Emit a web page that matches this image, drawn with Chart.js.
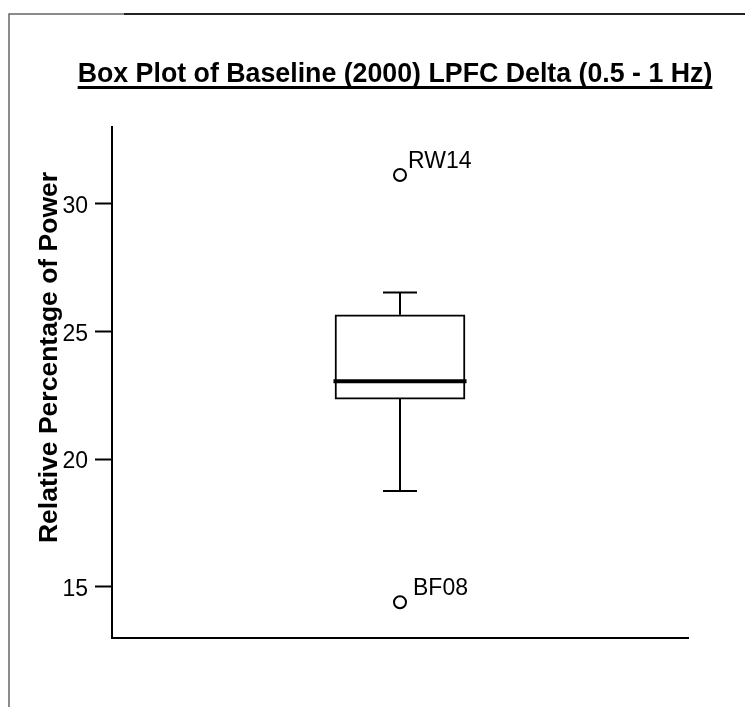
<!DOCTYPE html>
<html>
<head>
<meta charset="utf-8">
<script src="https://cdn.jsdelivr.net/npm/chart.js@4"></script>
<style>
  html, body { margin: 0; padding: 0; background: #fff; }
  #wrap { width: 745px; height: 707px; position: relative; }
</style>
</head>
<body>
<div id="wrap"><canvas id="c" width="745" height="707"></canvas></div>
<script>
// ---- data ----
const chartTitle = 'Box Plot of Baseline (2000) LPFC Delta (0.5 - 1 Hz)';
const yAxisTitle = 'Relative Percentage of Power';
const yTickValues = [15, 20, 25, 30];
const yRange = [13, 33];
// five-number summary: lower whisker, Q1, median, Q3, upper whisker
const boxStats = [18.75, 22.35, 23.05, 25.65, 26.52];
const outlierLabels = ['RW14', 'BF08'];
const outlierValues = [31.12, 14.40];

// ---- styling ----
const FONT = "'Liberation Sans', Arial, sans-serif";
const BOX_X = 1;            // centre of the single box on a 0..2 linear axis
const MEDIAN_HALF = 0.231;  // half width of the median bar (axis units)
const CAP_HALF = 0.059;     // half width of whisker caps (axis units)
const labelOffsets = [[8, -7], [13, -7]];

const [wLow, q1, med, q3, wHigh] = boxStats;

const seg = (x0, y0, x1, y1) => [{ x: x0, y: y0 }, { x: x1, y: y1 }, { x: NaN, y: NaN }];

const whiskerPoints = [
  ...seg(BOX_X, q3, BOX_X, wHigh),
  ...seg(BOX_X - CAP_HALF, wHigh, BOX_X + CAP_HALF, wHigh),
  ...seg(BOX_X, q1, BOX_X, wLow),
  ...seg(BOX_X - CAP_HALF, wLow, BOX_X + CAP_HALF, wLow)
];

const decorations = {
  id: 'decorations',
  beforeDraw(chart) {
    const ctx = chart.ctx;
    ctx.save();
    // page frame
    ctx.strokeStyle = '#666';
    ctx.lineWidth = 1.5;
    ctx.beginPath();
    ctx.moveTo(9, 707); ctx.lineTo(9, 14); ctx.lineTo(124, 14);
    ctx.stroke();
    ctx.strokeStyle = '#222';
    ctx.lineWidth = 2;
    ctx.beginPath();
    ctx.moveTo(124, 14); ctx.lineTo(745, 14);
    ctx.stroke();
    ctx.restore();
  },
  afterDraw(chart) {
    const ctx = chart.ctx;
    ctx.save();
    ctx.fillStyle = '#000';
    // underlined chart title
    ctx.font = 'bold 26.75px ' + FONT;
    ctx.textAlign = 'center';
    ctx.textBaseline = 'alphabetic';
    const cx = 395;
    ctx.fillText(chartTitle, cx, 82);
    const tw = ctx.measureText(chartTitle).width;
    ctx.fillRect(cx - tw / 2, 86, tw, 3);

    // vertical axis title
    ctx.save();
    ctx.font = 'bold 26.5px ' + FONT;
    ctx.translate(57, 357.5);
    ctx.rotate(-Math.PI / 2);
    ctx.textAlign = 'center';
    ctx.fillText(yAxisTitle, 0, 0);
    ctx.restore();

    // outlier case labels
    const meta = chart.getDatasetMeta(3);
    ctx.font = '23px ' + FONT;
    ctx.textAlign = 'left';
    outlierLabels.forEach((lbl, i) => {
      const pt = meta.data[i];
      ctx.fillText(lbl, pt.x + labelOffsets[i][0], pt.y + labelOffsets[i][1]);
    });
    ctx.restore();
  }
};

new Chart(document.getElementById('c'), {
  data: {
    datasets: [
      {
        type: 'bar',
        data: [{ x: BOX_X, y: [q1, q3] }],
        backgroundColor: '#fff',
        borderColor: '#000',
        borderWidth: 2,
        borderSkipped: false,
        barThickness: 130,
        order: 3
      },
      {
        type: 'line',
        data: whiskerPoints,
        borderColor: '#000',
        borderWidth: 2,
        pointRadius: 0,
        spanGaps: false,
        order: 2
      },
      {
        type: 'line',
        data: [{ x: BOX_X - MEDIAN_HALF, y: med }, { x: BOX_X + MEDIAN_HALF, y: med }],
        borderColor: '#000',
        borderWidth: 4,
        pointRadius: 0,
        order: 1
      },
      {
        type: 'scatter',
        data: outlierValues.map(v => ({ x: BOX_X, y: v })),
        pointRadius: 6,
        pointBorderWidth: 2,
        pointBackgroundColor: '#fff',
        pointBorderColor: '#000',
        order: 0
      }
    ]
  },
  options: {
    responsive: false,
    animation: false,
    events: [],
    layout: { padding: { top: 127, left: 0, right: 57, bottom: 67 } },
    plugins: { legend: { display: false }, tooltip: { enabled: false }, title: { display: false } },
    scales: {
      x: {
        type: 'linear',
        min: 0,
        max: 2,
        offset: false,
        grid: { display: false },
        ticks: { display: false },
        border: { display: true, color: '#000', width: 2 },
        afterFit: s => { s.height = 2; }
      },
      y: {
        type: 'linear',
        min: yRange[0],
        max: yRange[1],
        afterBuildTicks: s => { s.ticks = yTickValues.map(v => ({ value: v })); },
        afterFit: s => { s.width = 112; },
        grid: { drawOnChartArea: false, drawTicks: true, tickLength: 17, tickWidth: 2, tickColor: '#000' },
        border: { display: true, color: '#000', width: 2 },
        ticks: { color: '#000', padding: 7, labelOffset: 3, font: { family: FONT, size: 23 } }
      }
    }
  },
  plugins: [decorations]
});
</script>
</body>
</html>
